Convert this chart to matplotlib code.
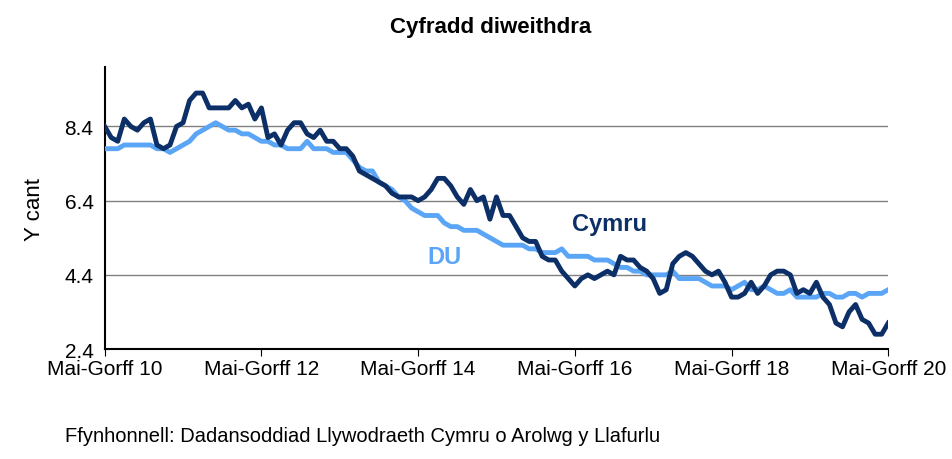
import matplotlib.pyplot as plt
import numpy as np

plt.rcParams['font.family'] = ['Liberation Sans', 'DejaVu Sans']

# monthly rolling 3-month rates, May-Jul 2010 .. May-Jul 2020
cymru = [8.4, 8.1, 8.0, 8.6, 8.4, 8.3, 8.5, 8.6, 7.9, 7.8, 7.9, 8.4,
         8.5, 9.1, 9.3, 9.3, 8.9, 8.9, 8.9, 8.9, 9.1, 8.9, 9.0, 8.6,
         8.9, 8.1, 8.2, 7.9, 8.3, 8.5, 8.5, 8.2, 8.1, 8.3, 8.0, 8.0,
         7.8, 7.8, 7.6, 7.2, 7.1, 7.0, 6.9, 6.8, 6.6, 6.5, 6.5, 6.5,
         6.4, 6.5, 6.7, 7.0, 7.0, 6.8, 6.5, 6.3, 6.7, 6.4, 6.5, 5.9,
         6.5, 6.0, 6.0, 5.7, 5.4, 5.3, 5.3, 4.9, 4.8, 4.8, 4.5, 4.3,
         4.1, 4.3, 4.4, 4.3, 4.4, 4.5, 4.4, 4.9, 4.8, 4.8, 4.6, 4.5,
         4.3, 3.9, 4.0, 4.7, 4.9, 5.0, 4.9, 4.7, 4.5, 4.4, 4.5, 4.2,
         3.8, 3.8, 3.9, 4.2, 3.9, 4.1, 4.4, 4.5, 4.5, 4.4, 3.9, 4.0,
         3.9, 4.2, 3.8, 3.6, 3.1, 3.0, 3.4, 3.6, 3.2, 3.1, 2.8, 2.8,
         3.1]
du = [7.8, 7.8, 7.8, 7.9, 7.9, 7.9, 7.9, 7.9, 7.8, 7.8, 7.7, 7.8,
      7.9, 8.0, 8.2, 8.3, 8.4, 8.5, 8.4, 8.3, 8.3, 8.2, 8.2, 8.1,
      8.0, 8.0, 7.9, 7.9, 7.8, 7.8, 7.8, 8.0, 7.8, 7.8, 7.8, 7.7,
      7.7, 7.7, 7.5, 7.3, 7.2, 7.2, 6.9, 6.8, 6.7, 6.5, 6.4, 6.2,
      6.1, 6.0, 6.0, 6.0, 5.8, 5.7, 5.7, 5.6, 5.6, 5.6, 5.5, 5.4,
      5.3, 5.2, 5.2, 5.2, 5.2, 5.1, 5.1, 5.0, 5.0, 5.0, 5.1, 4.9,
      4.9, 4.9, 4.9, 4.8, 4.8, 4.8, 4.7, 4.6, 4.6, 4.5, 4.5, 4.4,
      4.4, 4.4, 4.4, 4.5, 4.3, 4.3, 4.3, 4.3, 4.2, 4.1, 4.1, 4.1,
      4.0, 4.1, 4.2, 4.0, 4.0, 4.1, 4.0, 3.9, 3.9, 4.0, 3.8, 3.8,
      3.8, 3.8, 3.9, 3.9, 3.8, 3.8, 3.9, 3.9, 3.8, 3.9, 3.9, 3.9,
      4.0]
tick_labels = ["Mai-Gorff 10", "Mai-Gorff 12", "Mai-Gorff 14",
               "Mai-Gorff 16", "Mai-Gorff 18", "Mai-Gorff 20"]
y_ticks = [2.4, 4.4, 6.4, 8.4]

fig = plt.figure(figsize=(9.52, 4.6), dpi=100)
ax = fig.add_axes([0.110, 0.239, 0.823, 0.613])
x = np.arange(len(cymru))

ax.plot(x, du, color="#5aa5f5", lw=3.5, zorder=3)
ax.plot(x, cymru, color="#0b2f66", lw=3.5, zorder=4)

ax.set_xlim(0, 120)
ax.set_ylim(2.4, 10.0)
ax.set_xticks(np.arange(0, 121, 24))
ax.set_xticklabels(tick_labels, fontsize=15)
ax.set_yticks(y_ticks)
ax.set_yticklabels([f"{v:.1f}" for v in y_ticks], fontsize=15)
ax.tick_params(axis="x", length=5, direction="out", pad=2)
ax.tick_params(axis="y", length=0, pad=8)
ax.yaxis.grid(True, color="#808080", lw=1)
ax.set_axisbelow(True)
for s in ["top", "right"]:
    ax.spines[s].set_visible(False)
ax.spines["left"].set_linewidth(1.5)
ax.spines["bottom"].set_linewidth(1.5)
ax.set_ylabel("Y cant", fontsize=16, labelpad=14)

ax.text(77.3, 5.78, "Cymru", color="#0b2f66", fontsize=17, fontweight="bold", ha="center", va="center")
ax.text(52, 4.9, "DU", color="#5aa5f5", fontsize=17, fontweight="bold", ha="center", va="center")

fig.text(0.515, 0.94, "Cyfradd diweithdra", fontsize=16, fontweight="bold", ha="center", va="center")
fig.text(0.068, 0.05, "Ffynhonnell: Dadansoddiad Llywodraeth Cymru o Arolwg y Llafurlu", fontsize=14.5, ha="left", va="center")

fig.savefig("out.png", dpi=100)
